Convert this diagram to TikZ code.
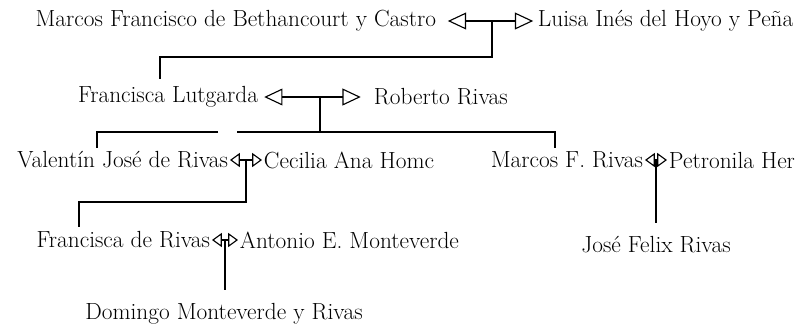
\documentclass[tikz,border=0pt]{standalone}
\usetikzlibrary{arrows.meta, calc}
\tikzset{
    person/.style={inner sep=1pt, font=\fontsize{16.6}{20}\selectfont},
    bigcouple/.style={{Triangle[open, length=13pt, width=12pt]}-{Triangle[open, length=13pt, width=12pt]}},
    smallcouple/.style={{Triangle[open, length=7pt, width=10pt]}-{Triangle[open, length=7pt, width=10pt]}},
}
\begin{document}
\begin{tikzpicture}[line width=0.8pt]
            \useasboundingbox (0, 0) rectangle (20.125, -8.275);
            \node[person, anchor=east] (marcos) at (10.95, -0.525) {Marcos Francisco de Bethancourt y Castro};
            \node[person, anchor=west] (luisa) at (13.4, -0.525) {Luisa Inés del Hoyo y Peña};
            \draw[bigcouple, shorten <=7pt, shorten >=2pt] (marcos.east) -- (luisa.west);
            \coordinate (m1) at (12.3, -0.525);
            \node[person, anchor=east] (lutgarda) at (6.5, -2.425) {Francisca Lutgarda};
            \node[person, anchor=west] (roberto) at (9.3, -2.425) {Roberto Rivas};
            \draw[bigcouple, shorten <=3pt, shorten >=8pt] (lutgarda.east) -- (roberto.west);
            \coordinate (m2) at (8.0, -2.425);
            \node[person, anchor=east] (valentin) at (5.75, -4.0) {Valentín José de Rivas};
            \node[person, anchor=west] (cecilia) at (6.55, -4.0) {Cecilia Ana Homc};
            \draw[smallcouple] (valentin.east) -- (cecilia.west);
            \coordinate (m3) at ($(valentin.east)!0.5!(cecilia.west)$);
            \node[person, anchor=east] (marcosf) at (16.125, -4.0) {Marcos F. Rivas};
            \node[person, anchor=west] (petronila) at (16.675, -4.0) {Petronila Her};
            \draw[smallcouple] (marcosf.east) -- (petronila.west);
            \coordinate (m4) at ($(marcosf.east)!0.5!(petronila.west)$);
            \node[person, anchor=east] (francisca) at (5.3, -6.0) {Francisca de Rivas};
            \node[person, anchor=west] (antonio) at (5.95, -6.0) {Antonio E. Monteverde};
            \draw[smallcouple] (francisca.east) -- (antonio.west);
            \coordinate (m5) at ($(francisca.east)!0.5!(antonio.west)$);
            \node[person] (josefelix) at (16.4, -6.125) {José Felix Rivas};
            \node[person] (domingo) at (5.6, -7.85) {Domingo Monteverde y Rivas};
            \coordinate (k1) at (4.0, -1.425);
            \draw[shorten >=4pt] (m1) |- (k1) -- (k1 |- lutgarda.north);
            \coordinate (k2) at (8.0, -3.3);
            \coordinate (k2a) at (2.425, -3.3);
            \coordinate (k2b) at (5.45, -3.3);
            \coordinate (k2c) at (5.925, -3.3);
            \coordinate (k2d) at (13.875, -3.3);
            \draw (m2) -- (k2);
            \draw[shorten >=1pt] (k2b) -- (k2a) -- (k2a |- valentin.north);
            \draw[shorten >=1pt] (k2c) -- (k2d) -- (k2d |- marcosf.north);
            \coordinate (k3) at (1.975, -5.05);
            \draw[shorten >=2pt] (m3) |- (k3) -- (k3 |- francisca.north);
            \draw[shorten >=8pt] (m4) -- (m4 |- josefelix.north);
            \draw[shorten >=8pt] (m5) -- (m5 |- domingo.north);
        \end{tikzpicture}
\end{document}
